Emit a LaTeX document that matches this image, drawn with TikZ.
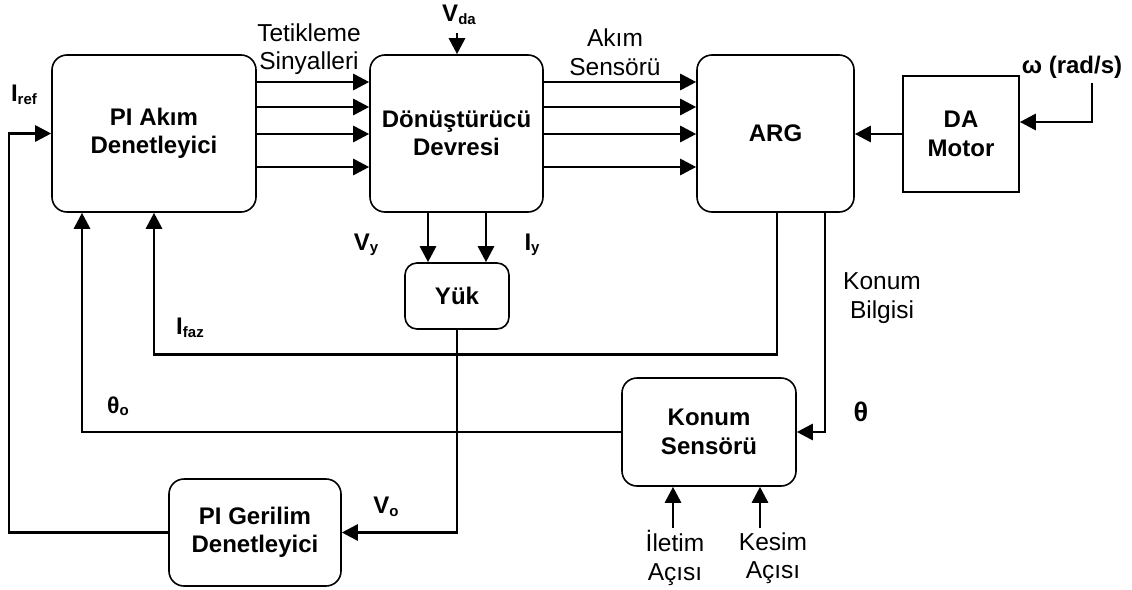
\documentclass[tikz,border=0pt]{standalone}
\usepackage{fontspec}
\setmainfont{Liberation Sans}
\usetikzlibrary{arrows.meta}
\newcommand\sbs[1]{{\fontsize{15}{15}\selectfont\raisebox{-2.5pt}{#1}}}
\begin{document}
\begin{tikzpicture}[x=1pt,y=-1pt,
  blk/.style={draw, line width=1.6pt, rounded corners=15pt, align=center, inner sep=0pt,
    font=\bfseries\fontsize{24}{28.5}\selectfont},
  sq/.style={draw, line width=1.6pt, align=center, inner sep=0pt,
    font=\bfseries\fontsize{24}{28.5}\selectfont},
  conn/.style={line width=2.8pt, -{Triangle[length=16pt,width=16pt]}},
  lbl/.style={font=\fontsize{24.5}{28.5}\selectfont, align=center, inner sep=0pt},
  blbl/.style={font=\bfseries\fontsize{24}{28}\selectfont, inner sep=0pt},
]
\useasboundingbox (0,0) rectangle (1132,589);

% blocks
\node[blk, minimum width=204pt, minimum height=157pt] (pia) at (154,133.5) {PI Akım\\Denetleyici};
\node[blk, minimum width=173pt, minimum height=157pt] (dc) at (456.5,133.5) {Dönüştürücü\\Devresi};
\node[blk, minimum width=157pt, minimum height=157pt] (arg) at (775.5,133.5) {ARG};
\node[sq, minimum width=116pt, minimum height=116pt] (mot) at (961,134) {DA\\Motor};
\node[blk, minimum width=104pt, minimum height=66pt, rounded corners=12pt] (yuk) at (457,296) {Yük};
\node[blk, minimum width=174pt, minimum height=108pt] (ks) at (709,432) {Konum\\Sensörü};
\node[blk, minimum width=172pt, minimum height=107pt] (pig) at (255,532.5) {PI Gerilim\\Denetleyici};

% free ends
\coordinate (vdat) at (457,33);
\coordinate (wtop) at (1092,83);
\coordinate (il) at (673,528);
\coordinate (ke) at (760,528);
\coordinate (lft) at (9,133.5);

% connectors
\foreach \yy in {82,107,134,167} {
  \draw[conn] (pia.east |- 0,\yy) -- (dc.west |- 0,\yy);
  \draw[conn] (dc.east |- 0,\yy) -- (arg.west |- 0,\yy);
}
\draw[conn] (vdat) -- (vdat |- dc.north);
\draw[conn] (mot.west) -- (arg.east |- mot.west);
\draw[conn] (wtop) |- (mot.east |- 0,122);
\draw[conn] (dc.south -| 428,0) -- (yuk.north -| 428,0);
\draw[conn] (dc.south -| 486,0) -- (yuk.north -| 486,0);
\draw[conn] (arg.south -| 777,0) -- ++(0,142) -| (pia.south -| 154,0);
\draw[conn] (ks.west) -| (pia.south -| 82,0);
\draw[conn] (arg.south -| 825,0) |- (ks.east);
\draw[conn] (il) -- (il |- ks.south);
\draw[conn] (ke) -- (ke |- ks.south);
\draw[conn] (yuk.south) |- (pig.east);
\draw[conn] (pig.west) -| (lft) -- (pia.west);

% labels
\node[lbl] (tet) at (309,49) {Tetikleme\\Sinyalleri};
\node[lbl] (aks) at (615,52) {Akım\\Sensörü};
\node[lbl] (kb) at (882,298) {Konum\\Bilgisi};
\node[lbl] (ila) at (675,558) {İletim\\Açısı};
\node[lbl] (kea) at (773,558) {Kesim\\Açısı};
\node[blbl] (vda) at (459,15) {V\sbs{da}};
\node[blbl] (om) at (1072,67) {ω (rad/s)};
\node[blbl] (iref) at (24,95) {I\sbs{ref}};
\node[blbl] (vy) at (366,245) {V\sbs{y}};
\node[blbl] (iy) at (532,245) {I\sbs{y}};
\node[blbl] (ifaz) at (190,328) {I\sbs{faz}};
\node[blbl, font=\bfseries\fontsize{23}{23}\selectfont] (tho) at (118,406) {θ\sbs{o}};
\node[blbl, font=\bfseries\fontsize{27}{27}\selectfont] (th) at (861,412) {θ};
\node[blbl] (vo) at (386,507) {V\sbs{o}};
\end{tikzpicture}
\end{document}
